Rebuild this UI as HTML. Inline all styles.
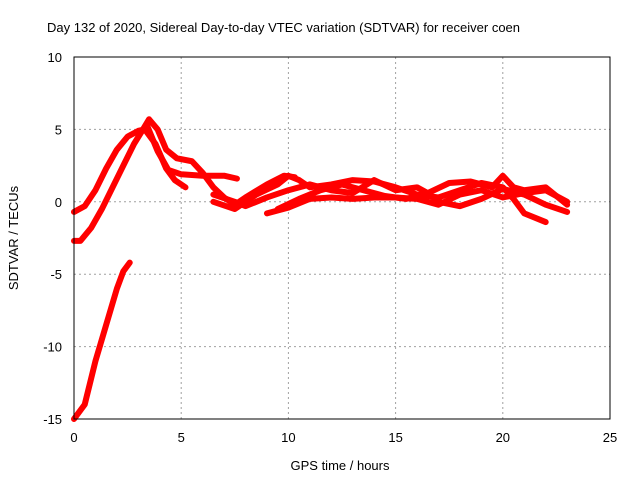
<!DOCTYPE html>
<html><head><meta charset="utf-8"><style>
body{margin:0;background:#fff;}
svg{display:block;font-family:"Liberation Sans",sans-serif;}
</style></head><body>
<svg width="640" height="480" viewBox="0 0 640 480">
<g id="grid"></g>
<g id="series"></g>
<rect x="74" y="57" width="536" height="362" fill="none" stroke="#000" stroke-width="1"/>
<g id="ticks"></g>
<text x="47" y="32" font-size="13">Day 132 of 2020, Sidereal Day-to-day VTEC variation (SDTVAR) for receiver coen</text>
<text x="340" y="470" font-size="13" text-anchor="middle">GPS time / hours</text>
<text x="0" y="0" font-size="13" text-anchor="middle" transform="translate(18,238) rotate(-90)">SDTVAR / TECUs</text>
</svg>
<script>
const xTicks=[0,5,10,15,20,25];
const yTicks=[10,5,0,-5,-10,-15];
const seriesA=[[0,-0.7],[0.5,-0.3],[1,0.8],[1.5,2.3],[2,3.6],[2.5,4.5],[3,4.9],[3.3,5.0],[3.8,4.0],[4.3,2.3],[4.7,1.5],[5.2,1.0]];
const seriesB=[[0,-2.7],[0.3,-2.7],[0.8,-1.8],[1.3,-0.5],[1.8,1.0],[2.3,2.5],[2.8,4.0],[3.3,5.2],[3.5,5.7],[3.9,5.0],[4.3,3.6],[4.8,3.0],[5.5,2.8],[6.0,2.0],[6.5,1.0],[7,0.3],[7.5,-0.2],[8,0.3],[9,1.2],[9.8,1.8],[10.3,1.7]];
const seriesC=[[3.4,5.3],[3.9,3.5],[4.4,2.2],[5,1.9],[6,1.8],[7,1.8],[7.6,1.6]];
const seriesT1=[[6.5,0],[7.5,-0.5],[8.5,0.5],[9.5,1.2],[10,1.8],[10.5,1.5],[11,1.0],[12,1.2],[13,1.5],[14,1.4],[15,1.0],[16,0.5],[17,0.3],[18,0.8],[19,1.3],[20,1.0],[20.5,0.2],[21,-0.8],[22,-1.4]];
const seriesT2=[[6.5,0.5],[7.5,0.0],[8,-0.3],[9,0.3],[10,0.8],[11,1.2],[12,0.8],[13,0.6],[14,1.5],[15,0.8],[16,1.0],[16.5,0.6],[17.5,1.3],[18.5,1.4],[19.5,1.0],[20,1.8],[20.5,1.0],[21,0.8],[22,1.0],[23,-0.2]];
const seriesT3=[[9.5,-0.5],[10.5,0.2],[11.5,0.8],[12.5,1.2],[13.5,0.8],[14.5,0.4],[15.5,0.2],[16.5,0.6],[17,0.0],[18,-0.3],[19,0.2],[20,0.9],[21,0.5],[22,-0.2],[23,-0.7]];
const seriesT4=[[9,-0.8],[10,-0.4],[11,0.2],[12,0.3],[13,0.2],[14,0.3],[15,0.3],[16,0.2],[17,-0.2],[18,0.5],[19,0.8],[20,0.3],[21,0.6],[22,0.8],[23,0.0]];
const seriesD=[[0,-15],[0.5,-14],[1,-11],[1.5,-8.5],[2,-6],[2.3,-4.8],[2.6,-4.2]];
const allSeries=[seriesA,seriesB,seriesC,seriesT1,seriesT2,seriesT3,seriesT4,seriesD];
const NS="http://www.w3.org/2000/svg";
function xs(v){return 74+v*(536/25);}
function ys(v){return 57+(10-v)*(362/25);}
const grid=document.getElementById('grid'),ticks=document.getElementById('ticks'),sg=document.getElementById('series');
function mk(t,a,p){const e=document.createElementNS(NS,t);for(const k in a)e.setAttribute(k,a[k]);p.appendChild(e);return e;}
xTicks.forEach(v=>{
 const x=xs(v);
 if(v>0&&v<25){const g=mk('line',{x1:x,x2:x,y1:57,y2:419,stroke:'#a0a0a0','stroke-dasharray':'2,3'},grid);
 
 }
 const t=mk('text',{x:x,y:442,'font-size':13,'text-anchor':'middle'},ticks);t.textContent=v;
 
 
});
yTicks.forEach(v=>{
 const y=ys(v);
 if(v<10&&v>-15){const g=mk('line',{x1:74,x2:610,y1:y,y2:y,stroke:'#a0a0a0','stroke-dasharray':'2,3'},grid);
 
 }
 const t=mk('text',{x:62,y:y+5,'font-size':13,'text-anchor':'end'},ticks);t.textContent=v;
 
 
});
allSeries.forEach(s=>{
 const p=mk('polyline',{points:s.map(d=>xs(d[0])+','+ys(d[1])).join(' '),fill:'none',stroke:'#ff0000','stroke-width':6,'stroke-linejoin':'round','stroke-linecap':'round'},sg);
 
 
});
</script>
</body></html>
